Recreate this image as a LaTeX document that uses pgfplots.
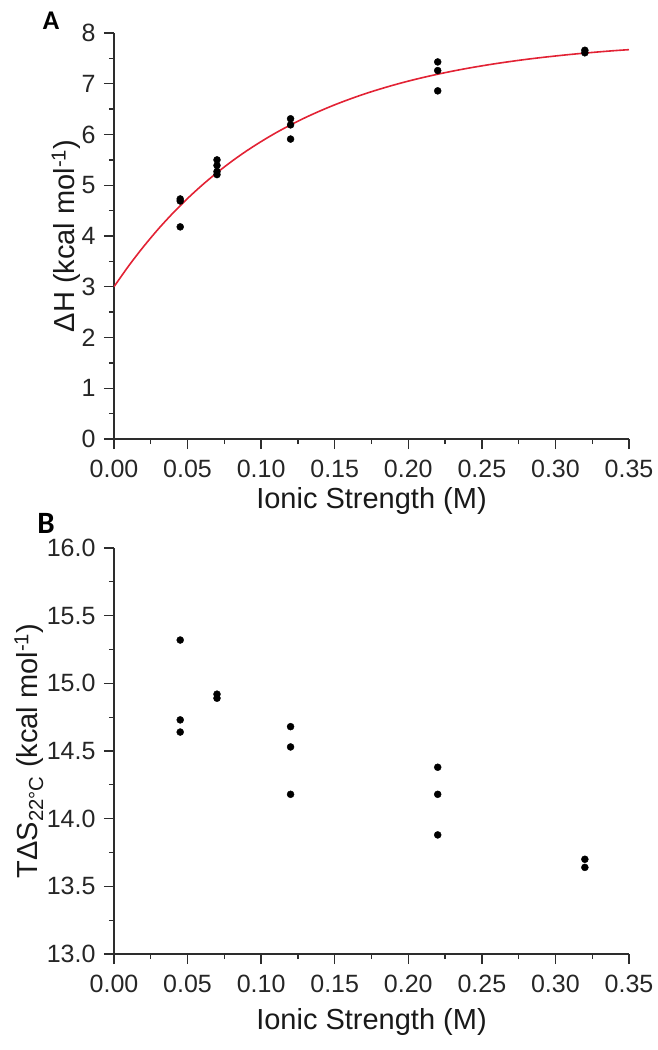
\documentclass[border=0pt]{standalone}
\usepackage{fontspec}
\setmainfont{Liberation Sans}
\newfontfamily\panelfont{Carlito}
\usepackage{pgfplots}
\pgfplotsset{compat=1.18}
\definecolor{axisgray}{RGB}{45,45,45}
\definecolor{fitred}{RGB}{226,34,52}

\pgfplotstableread{
x      dH
0.045  4.73
0.045  4.69
0.045  4.18
0.070  5.50
0.070  5.39
0.070  5.27
0.070  5.21
0.120  6.31
0.120  6.19
0.120  5.91
0.220  7.43
0.220  7.26
0.220  6.86
0.320  7.66
0.320  7.61
}\dHdata

\pgfplotstableread{
x     fit
0.00  3.000
0.01  3.412
0.02  3.788
0.03  4.134
0.04  4.450
0.05  4.740
0.06  5.005
0.07  5.248
0.08  5.471
0.09  5.675
0.10  5.861
0.11  6.033
0.12  6.189
0.13  6.333
0.14  6.464
0.15  6.585
0.16  6.695
0.17  6.797
0.18  6.889
0.19  6.974
0.20  7.052
0.21  7.123
0.22  7.188
0.23  7.248
0.24  7.303
0.25  7.353
0.26  7.399
0.27  7.441
0.28  7.480
0.29  7.515
0.30  7.547
0.31  7.577
0.32  7.604
0.33  7.629
0.34  7.652
0.35  7.672
}\fitdata

\pgfplotstableread{
x      TdS
0.045  15.32
0.045  14.73
0.045  14.64
0.070  14.92
0.070  14.89
0.120  14.68
0.120  14.53
0.120  14.18
0.220  14.38
0.220  14.18
0.220  13.88
0.320  13.70
0.320  13.64
}\dSdata

\pgfplotsset{
  ionic/.style={
    scale only axis, width=515pt, height=406pt,
    axis lines=left,
    axis line style={-, line width=1.5pt, color=axisgray},
    xmin=0, xmax=0.35,
    xtick={0,0.05,0.10,0.15,0.20,0.25,0.30,0.35},
    scaled ticks=false,
    minor x tick num=1, minor y tick num=1,
    tick align=outside,
    major tick length=10pt, minor tick length=5pt,
    tick style={line width=1.3pt, color=axisgray},
    tick label style={font=\fontsize{25}{30}\selectfont, color=black!85},
    /pgf/number format/assume math mode=true,
    x tick label style={/pgf/number format/fixed, /pgf/number format/fixed zerofill,
      /pgf/number format/precision=2, yshift=-8pt},
    y tick label style={xshift=-5pt},
    label style={font=\fontsize{29}{34}\selectfont, color=black!90},
    xlabel={Ionic Strength (M)},
  },
  dots/.style={only marks, mark=*, mark size=3.5pt, color=black},
}

\begin{document}
\begin{tikzpicture}
\useasboundingbox (-114pt,-611pt) rectangle (543pt,439pt);

% panel A
\begin{axis}[ionic, at={(0pt,0pt)},
    ymin=0, ymax=8, ytick={0,1,...,8},
    xlabel style={at={(axis description cs:0.5,-0.153)}, anchor=center},
    ylabel={ΔH (kcal mol\textsuperscript{-1})},
    ylabel style={at={(axis description cs:-0.093,0.5)}, anchor=center},
]
\addplot[color=fitred, line width=1.6pt, smooth] table[x=x, y=fit] {\fitdata};
\addplot[dots] table[x=x, y=dH] {\dHdata};
\end{axis}

% panel B
\begin{axis}[ionic, at={(0pt,-515pt)},
    ymin=13, ymax=16, ytick={13,13.5,...,16},
    y tick label style={/pgf/number format/fixed, /pgf/number format/fixed zerofill,
      /pgf/number format/precision=1},
    xlabel style={at={(axis description cs:0.5,-0.167)}, anchor=center},
    ylabel={TΔS\textsubscript{22°C} (kcal mol\textsuperscript{-1})},
    ylabel style={at={(axis description cs:-0.165,0.5)}, anchor=center},
]
\addplot[dots] table[x=x, y=TdS] {\dSdata};
\end{axis}

\node[font=\panelfont\bfseries\fontsize{27}{30}\selectfont] at (-63pt,418pt) {A};
\node[font=\panelfont\bfseries\fontsize{31}{34}\selectfont] at (-68pt,-84pt) {B};
\end{tikzpicture}
\end{document}
